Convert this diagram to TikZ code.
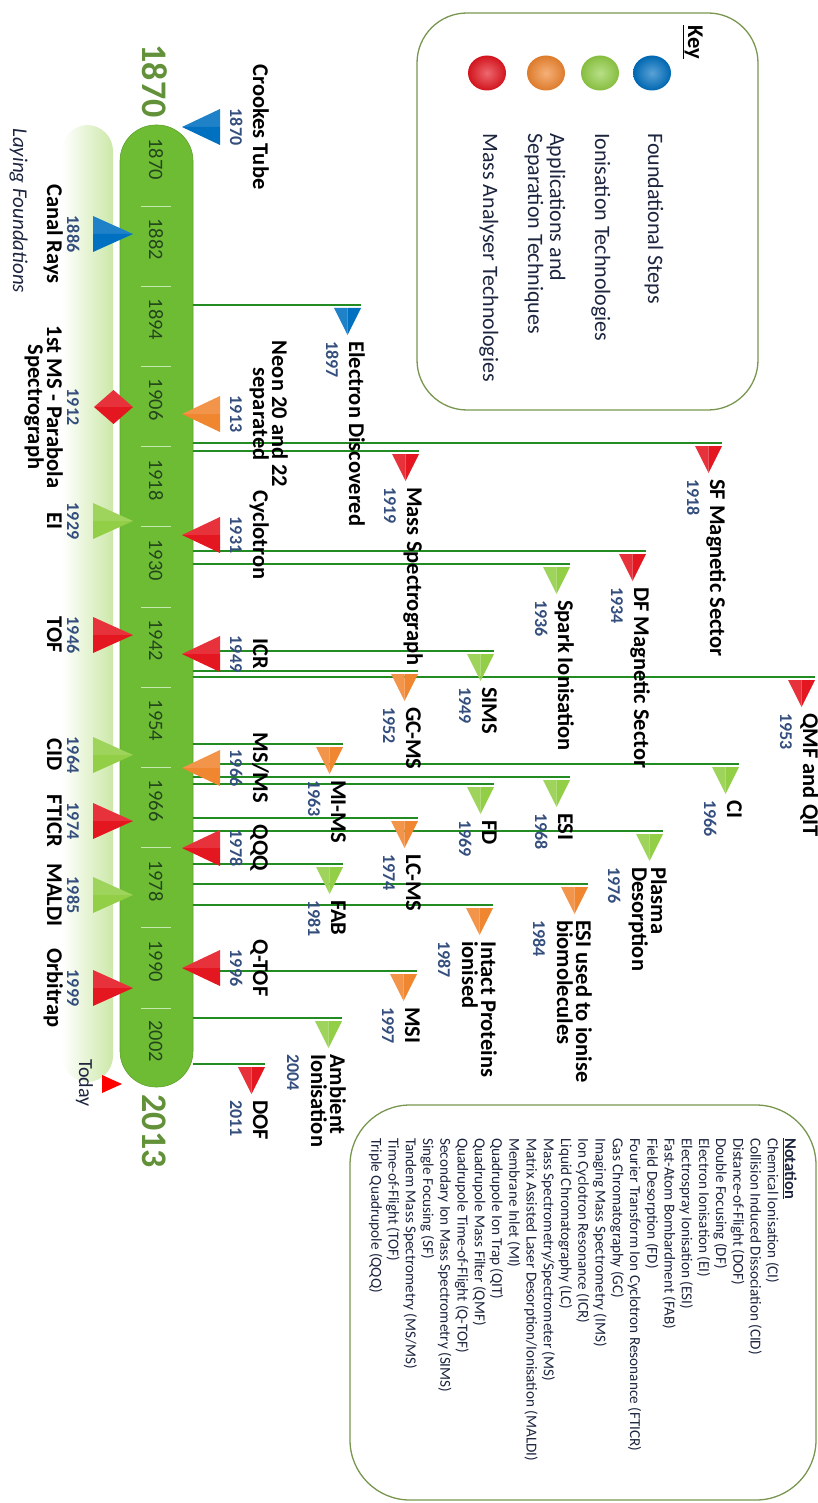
\documentclass[tikz,border=0pt]{standalone}
\usepackage{fontspec}
\setmainfont{Carlito}
\usetikzlibrary{calc}

\definecolor{fsblue}{RGB}{0,112,192}
\definecolor{masred}{RGB}{228,22,32}
\definecolor{apporange}{RGB}{240,134,48}
\definecolor{iongreen}{RGB}{146,206,70}
\definecolor{barmid}{RGB}{124,202,62}
\definecolor{baredge}{RGB}{110,188,52}
\definecolor{bandgreen}{RGB}{204,232,168}
\definecolor{connline}{RGB}{34,140,34}
\definecolor{yearblue}{RGB}{52,78,125}
\definecolor{bigyear}{RGB}{98,145,58}
\definecolor{boxline}{RGB}{120,150,80}
\definecolor{keytext}{RGB}{28,36,62}
\definecolor{baryear}{RGB}{36,70,28}
\definecolor{tickcol}{RGB}{196,232,176}

\newcommand\lblfont{\fontsize{22.5}{19}\selectfont\bfseries}
\newcommand\yrfont{\fontsize{18}{18}\selectfont\bfseries}

\tikzset{
  lbl/.style={rotate=-90, inner sep=0pt, font=\lblfont, text=black},
  yr/.style={rotate=-90, inner sep=0pt, font=\yrfont, text=yearblue},
  baryr/.style={rotate=-90, inner sep=0pt, font=\fontsize{20.5}{20}\selectfont, text=baryear, anchor=base},
  conn/.style={draw=connline, line width=1.4pt},
  keytxt/.style={rotate=-90, inner sep=0pt, font=\fontsize{22}{22}\selectfont, text=keytext, anchor=base west},
  roundbox/.style={draw=boxline, line width=1.3pt, inner sep=0pt},
}

% event beside the bar on the right, triangle pointing at the bar
\newcommand\evR[5]{%
  \fill[#3!88!white] (182,#2) -- (220,#2-18) -- (220,#2) -- cycle;
  \fill[#3] (182,#2) -- (220,#2) -- (220,#2+18) -- cycle;
  \node[yr, anchor=base] (#1y) at (230,#2) {#4};
  \node[lbl, anchor=base] (#1) at (253,#2) {#5};}
% event beside the bar on the left
\newcommand\evL[5]{%
  \fill[#3!88!white] (133,#2) -- (93,#2-18) -- (93,#2) -- cycle;
  \fill[#3] (133,#2) -- (93,#2) -- (93,#2+18) -- cycle;
  \node[yr, anchor=base] (#1y) at (67,#2) {#4};
  \node[lbl, anchor=base] (#1) at (47,#2) {#5};}
% marker hanging from the end of a connector
\newcommand\hang[2]{%
  \fill[#2!88!white] ($(#1)+(-27,3)$) -- ($(#1)+(-13.5,3)$) -- ($(#1)+(-13.5,30)$) -- cycle;
  \fill[#2] ($(#1)+(-13.5,3)$) -- ($(#1)+(0,3)$) -- ($(#1)+(-13.5,30)$) -- cycle;}
% one-line event at the end of a connector
\newcommand\evF[4]{%
  \hang{#1}{#2}
  \node[lbl, anchor=base west] (#1t) at ($(#1)+(-12,36)$) {#4};
  \node[yr, anchor=base west] (#1y) at ($(#1)+(-35,36)$) {#3};}
% two-line event at the end of a connector
\newcommand\evFF[5]{%
  \hang{#1}{#2}
  \node[lbl, anchor=base west] (#1t) at ($(#1)+(-12,36)$) {#4};
  \node[lbl, anchor=base west] (#1u) at ($(#1)+(-31,36)$) {#5};
  \node[yr, anchor=base west] (#1y) at ($(#1)+(-55,36)$) {#3};}

\begin{document}
\begin{tikzpicture}[x=1pt, y=-1pt]
\useasboundingbox (0,0) rectangle (817,1503);

% pale band of the first era
\shade[left color=white, right color=bandgreen, rounded corners=26pt] (62,125) rectangle (113,1082);
\node[rotate=-90, inner sep=0pt, anchor=base west, font=\fontsize{21}{21}\selectfont\itshape, text=keytext]
  (era) at (13,128) {Laying Foundations};

% the time bar
\node[minimum width=73pt, minimum height=962pt, inner sep=0pt, rounded corners=36pt,
      left color=baredge, middle color=barmid, right color=baredge, draw=baredge!85!black, line width=0.6pt]
  (bar) at (156.5,606) {};
\foreach \k in {0,...,10}
  \draw[tickcol, line width=0.8pt] (141,206+80.2*\k) -- (171,206+80.2*\k);
\foreach \yy [count=\k from 0] in {1870,1882,1894,1906,1918,1930,1942,1954,1966,1978,1990,2002}
  \node[baryr] (by\yy) at (149,159+80.2*\k) {\yy};

\node[rotate=-90, inner sep=0pt, anchor=base, font=\fontsize{36}{36}\selectfont\bfseries, text=bigyear]
  (start) at (142,81) {1870};
\node[rotate=-90, inner sep=0pt, anchor=base, font=\fontsize{36}{36}\selectfont\bfseries, text=bigyear]
  (finish) at (142,1131) {2013};

% connectors from the bar
\foreach \n/\L/\E in {eElec/305/361, eSF/443/722, eMSg/451/419, eDF/551/646, eSpark/564/570,
    eSIMS/651/494, eGCMS/671/418, eQMF/677/815, eMIMS/744/343, eCI/764/739, eESI/777/570,
    eFD/784/494, eLCMS/818/418, ePD/831/663, eFAB/864/343, eESIb/884/588, eIntact/905/493,
    eMSI/971/417, eAmb/1018/342, eDOF/1064/265}
  {\coordinate (\n) at (\E,\L); \draw[conn] (bar.east |- \n) -- (\n);}

% events at the ends of connectors
\evF{eElec}{fsblue}{1897}{Electron Discovered}
\evF{eSF}{masred}{1918}{SF Magnetic Sector}
\evF{eMSg}{masred}{1919}{Mass Spectrograph}
\evF{eDF}{masred}{1934}{DF Magnetic Sector}
\evF{eSpark}{iongreen}{1936}{Spark Ionisation}
\evF{eSIMS}{iongreen}{1949}{SIMS}
\evF{eGCMS}{apporange}{1952}{GC-MS}
\evF{eQMF}{masred}{1953}{QMF and QIT}
\evF{eMIMS}{apporange}{1963}{MI-MS}
\evF{eCI}{iongreen}{1966}{CI}
\evF{eESI}{iongreen}{1968}{ESI}
\evF{eFD}{iongreen}{1969}{FD}
\evF{eLCMS}{apporange}{1974}{LC-MS}
\evFF{ePD}{iongreen}{1976}{Plasma}{Desorption}
\evF{eFAB}{iongreen}{1981}{FAB}
\evFF{eESIb}{apporange}{1984}{ESI used to ionise}{biomolecules}
\evFF{eIntact}{apporange}{1987}{Intact Proteins}{ionised}
\evF{eMSI}{apporange}{1997}{MSI}
\evFF{eAmb}{iongreen}{2004}{Ambient}{Ionisation}
\evF{eDOF}{masred}{2011}{DOF}

% events right of the bar
\evR{crookes}{127}{fsblue}{1870}{Crookes Tube}
\evR{neon}{414}{apporange}{1913}{separated}
\node[lbl, anchor=base] (neonb) at (272,414) {Neon 20 and 22};
\evR{cyclo}{535}{masred}{1931}{Cyclotron}
\evR{icr}{654}{masred}{1949}{ICR}
\evR{msms}{768}{apporange}{1966}{MS/MS}
\evR{qqq}{848}{masred}{1978}{QQQ}
\evR{qtof}{968}{masred}{1996}{Q-TOF}

% events left of the bar
\evL{canal}{234}{fsblue}{1886}{Canal Rays}
\fill[masred!88!white] (113.5,390) -- (133,407) -- (94,407) -- cycle;
\fill[masred] (94,407) -- (133,407) -- (113.5,424) -- cycle;
\node[yr, anchor=base] (parabolay) at (67,407) {1912};
\node[lbl, anchor=base] (parabola) at (47,407) {1st MS - Parabola};
\node[lbl, anchor=base] (parabolab) at (28,407) {Spectrograph};
\evL{ei}{521}{iongreen}{1929}{EI}
\evL{tof}{635}{masred}{1946}{TOF}
\evL{cid}{755}{iongreen}{1964}{CID}
\evL{fticr}{821}{masred}{1974}{FTICR}
\evL{maldi}{895}{iongreen}{1985}{MALDI}
\evL{orbi}{988}{masred}{1999}{Orbitrap}

% today
\fill[red] (122,1084) -- (102,1075) -- (102,1093) -- cycle;
\node[rotate=-90, inner sep=0pt, anchor=base, font=\fontsize{20}{20}\selectfont, text=keytext]
  (today) at (79,1083) {Today};

% key
\node[roundbox, rounded corners=50pt, minimum width=341pt, minimum height=397pt] (keybox) at (587.5,211.5) {};
\node[rotate=-90, inner sep=0pt, anchor=base west, font=\fontsize{22.5}{22}\selectfont\bfseries]
  (keyttl) at (688,25) {\underline{Key}};
\foreach \c/\px in {fsblue/652, iongreen/600, apporange/546, masred/487}
  \shade[inner color=\c!65!white, outer color=\c!92!black] (\px,73) ellipse [x radius=19, y radius=17.5];
\node[keytxt] (k1) at (648,133) {Foundational Steps};
\node[keytxt] (k2) at (595,133) {Ionisation Technologies};
\node[keytxt] (k3) at (550,133) {Applications and};
\node[keytxt] (k3b) at (528,133) {Separation Techniques};
\node[keytxt] (k4) at (483,133) {Mass Analyser Technologies};

% notation
\node[roundbox, rounded corners=60pt, minimum width=466pt, minimum height=395pt] (notebox) at (583,1302.5) {};
\node[rotate=-90, inner sep=0pt, anchor=north west, align=left, text=keytext,
      font=\fontsize{15.2}{17.24}\selectfont] (notes) at (797,1138) {%
{\fontsize{16.5}{17.24}\selectfont\bfseries\underline{Notation}}\\
Chemical Ionisation (CI)\\
Collision Induced Dissociation (CID)\\
Distance-of-Flight (DOF)\\
Double Focusing (DF)\\
Electron Ionisation (EI)\\
Electrospray Ionisation (ESI)\\
Fast-Atom Bombardment (FAB)\\
Field Desorption (FD)\\
Fourier Transform Ion Cyclotron Resonance (FTICR)\\
Gas Chromatography (GC)\\
Imaging Mass Spectrometry (IMS)\\
Ion Cyclotron Resonance (ICR)\\
Liquid Chromatography (LC)\\
Mass Spectrometry/Spectrometer (MS)\\
Matrix Assisted Laser Desorption/Ionisation (MALDI)\\
Membrane Inlet (MI)\\
Quadrupole Ion Trap (QIT)\\
Quadrupole Mass Filter (QMF)\\
Quadrupole Time-of-Flight (Q-TOF)\\
Secondary Ion Mass Spectrometry (SIMS)\\
Single Focusing (SF)\\
Tandem Mass Spectrometry (MS/MS)\\
Time-of-Flight (TOF)\\
Triple Quadrupole (QQQ)};
\end{tikzpicture}
\end{document}
